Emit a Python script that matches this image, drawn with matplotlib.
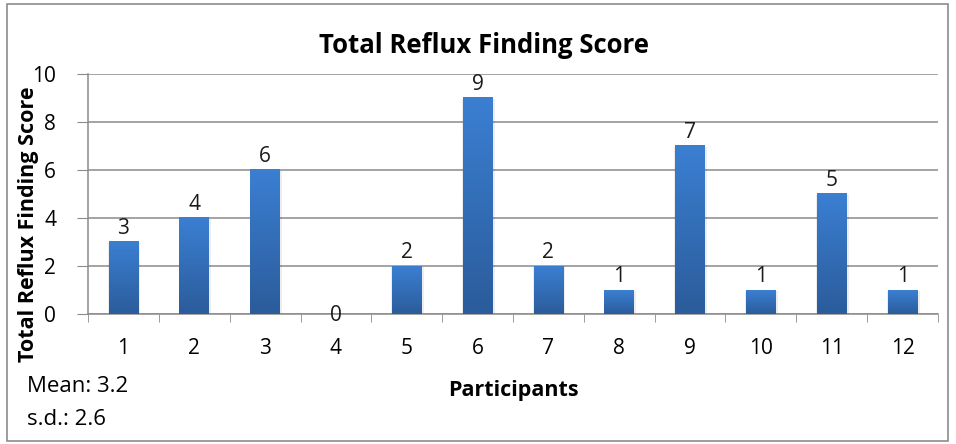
import numpy as np
import matplotlib.pyplot as plt
from matplotlib.colors import LinearSegmentedColormap
from matplotlib.patches import Rectangle

# data
participants = ["1", "2", "3", "4", "5", "6", "7", "8", "9", "10", "11", "12"]
scores = [3, 4, 6, 0, 2, 9, 2, 1, 7, 1, 5, 1]
mean_text = "Mean: 3.2"
sd_text = "s.d.: 2.6"

plt.rcParams["font.family"] = ["Open Sans", "DejaVu Sans"]

W, H = 956, 444
fig = plt.figure(figsize=(W / 100, H / 100), dpi=100)
ax = fig.add_axes([88 / W, 1 - 314 / H, (938 - 88) / W, (314 - 74) / H])

# outer border
fig.patches.append(Rectangle((7 / W, 3 / H), 941 / W, 437 / H,
                             transform=fig.transFigure, fill=False,
                             edgecolor="#8c8c8c", linewidth=1.2))

grad = LinearSegmentedColormap.from_list("bar", ["#2b5c9b", "#3b7fd2"])
gimg = np.linspace(0, 1, 256).reshape(-1, 1)

x = np.arange(len(scores))
width = 0.42
for xi, v in zip(x, scores):
    if v > 0:
        # soft shadow
        ax.add_patch(Rectangle((xi - width / 2 - 0.01, 0), width + 0.04,
                               v - 0.04, facecolor="#000000", alpha=0.07,
                               edgecolor="none", zorder=2))
        ax.imshow(gimg, extent=[xi - width / 2, xi + width / 2, 0, v],
                  origin="lower", cmap=grad, aspect="auto", zorder=3)
        ax.text(xi, v + 0.13, str(v), ha="center", va="bottom",
                fontsize=15, color="#1a1a1a", zorder=4)
    else:
        # zero label sits on the axis line
        ax.text(xi, v - 0.08, str(v), ha="center", va="center",
                fontsize=15, color="#1a1a1a", zorder=4, clip_on=False)

ax.set_xlim(-0.5, len(scores) - 0.5)
ax.set_ylim(0, 10)
ax.set_yticks(range(0, 11, 2))
ax.set_xticks(x)
ax.set_xticklabels(participants)
ax.set_xticks(np.arange(-0.5, len(scores), 1), minor=True)

ax.grid(axis="y", color="#8a8a8a", linewidth=1.1, zorder=0)
ax.set_axisbelow(True)

for side in ["top", "right"]:
    ax.spines[side].set_visible(False)
for side in ["left", "bottom"]:
    ax.spines[side].set_color("#8a8a8a")
    ax.spines[side].set_linewidth(1.1)

ax.tick_params(axis="y", which="major", length=8, color="#8a8a8a",
               labelsize=15, pad=15)
ax.tick_params(axis="x", which="major", length=0, labelsize=15, pad=17)
ax.tick_params(axis="x", which="minor", length=6, color="#8a8a8a")

fig.text(484 / W, 1 - 53 / H, "Total Reflux Finding Score", fontsize=18.5,
         fontweight="bold", ha="center", va="baseline")
fig.text(513 / W, 1 - 396 / H, "Participants", fontsize=15.5,
         fontweight="bold", ha="center", va="baseline")
fig.text(29 / W, 1 - 224 / H, "Total Reflux Finding Score", fontsize=15.5,
         fontweight="bold", ha="center", va="center", rotation=90)

fig.text(27 / W, 1 - 386 / H, mean_text, fontsize=16, va="center")
fig.text(27 / W, 1 - 419 / H, sd_text, fontsize=16, va="center")

fig.savefig("out.png", dpi=100)
